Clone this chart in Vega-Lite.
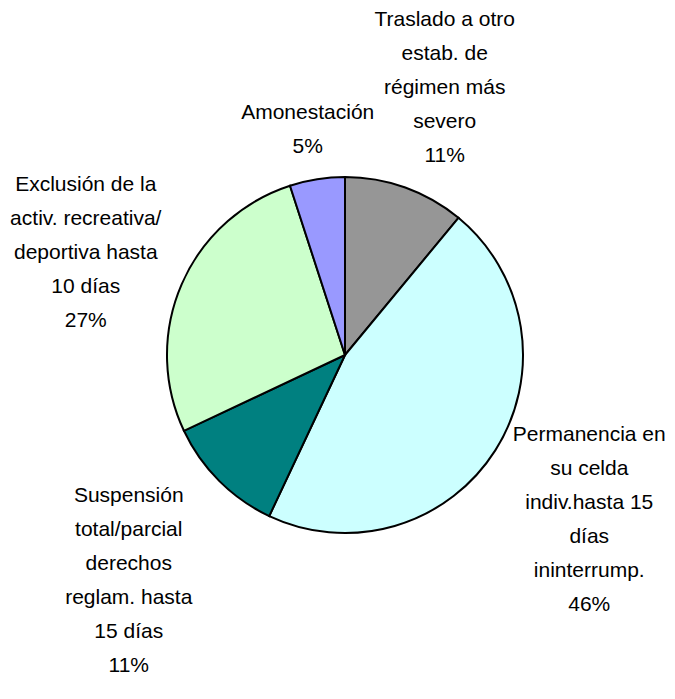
{
  "$schema": "https://vega.github.io/schema/vega-lite/v6.json",
  "width": 660,
  "height": 688,
  "autosize": "none",
  "padding": {"left": 15, "top": 11, "right": 0, "bottom": 0},
  "background": "white",
  "config": {"view": {"stroke": null}},
  "data": {
    "values": [
      {"orden": 1, "categoria": "Traslado a otro estab. de régimen más severo", "etiqueta": ["Traslado a otro", "estab. de", "régimen más", "severo", "11%"], "porcentaje": 11},
      {"orden": 2, "categoria": "Permanencia en su celda indiv.hasta 15 días ininterrump.", "etiqueta": ["Permanencia en", "su celda", "indiv.hasta 15", "días", "ininterrump.", "46%"], "porcentaje": 46},
      {"orden": 3, "categoria": "Suspensión total/parcial derechos reglam. hasta 15 días", "etiqueta": ["Suspensión", "total/parcial", "derechos", "reglam. hasta", "15 días", "11%"], "porcentaje": 11},
      {"orden": 4, "categoria": "Exclusión de la activ. recreativa/ deportiva hasta 10 días", "etiqueta": ["Exclusión de la", "activ. recreativa/", "deportiva hasta", "10 días", "27%"], "porcentaje": 27},
      {"orden": 5, "categoria": "Amonestación", "etiqueta": ["Amonestación", "5%"], "porcentaje": 5}
    ]
  },
  "encoding": {
    "theta": {"field": "porcentaje", "type": "quantitative", "stack": true},
    "order": {"field": "orden", "type": "quantitative"}
  },
  "layer": [
    {
      "mark": {"type": "arc", "outerRadius": 178, "stroke": "black", "strokeWidth": 2},
      "encoding": {
        "color": {
          "field": "categoria",
          "type": "nominal",
          "legend": null,
          "scale": {
            "domain": [
              "Traslado a otro estab. de régimen más severo",
              "Permanencia en su celda indiv.hasta 15 días ininterrump.",
              "Suspensión total/parcial derechos reglam. hasta 15 días",
              "Exclusión de la activ. recreativa/ deportiva hasta 10 días",
              "Amonestación"
            ],
            "range": ["#969696", "#CCFFFF", "#008080", "#CCFFCC", "#9999FF"]
          }
        }
      }
    },
    {
      "mark": {
        "type": "text",
        "radius": {"expr": "204 + min(72 / max(0.01, abs(sin(scale('theta', (datum.porcentaje_start + datum.porcentaje_end) / 2)))), 17 * length(datum.etiqueta) / max(0.01, abs(cos(scale('theta', (datum.porcentaje_start + datum.porcentaje_end) / 2)))))"},
        "dy": {"expr": "10 - (length(datum.etiqueta) - 1) * 17"},
        "lineHeight": 34,
        "font": "Liberation Sans, Arial, sans-serif",
        "fontSize": 21,
        "color": "#000000",
        "align": "center",
        "baseline": "middle"
      },
      "encoding": {
        "text": {"field": "etiqueta", "type": "nominal"}
      }
    }
  ]
}
